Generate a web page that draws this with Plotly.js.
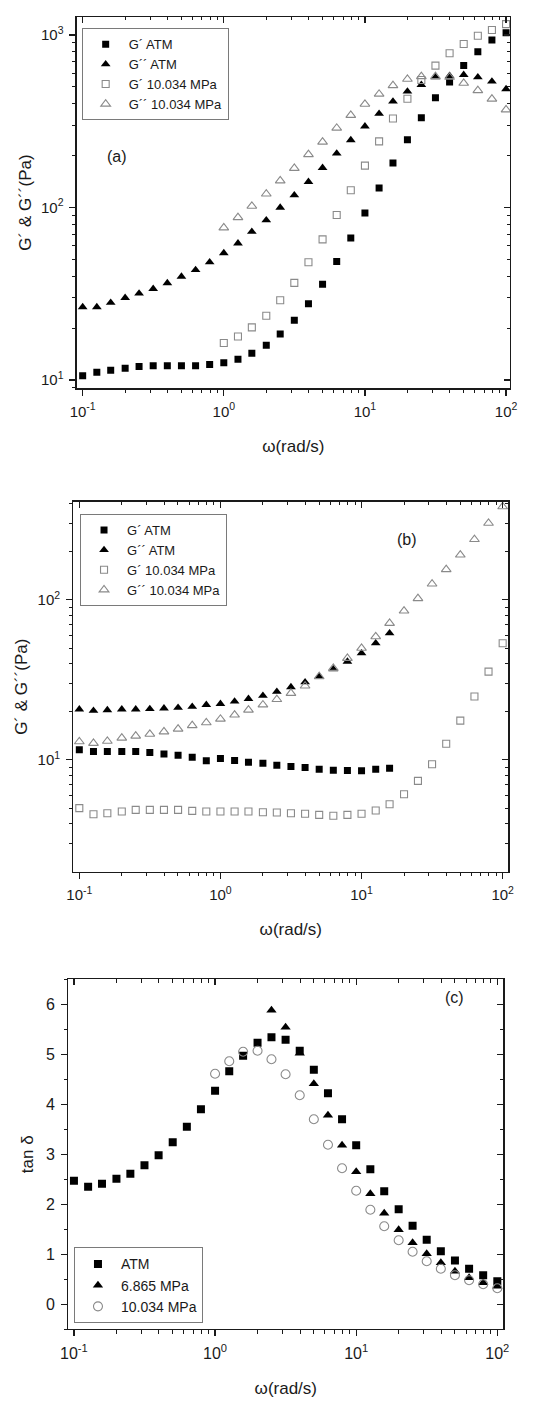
<!DOCTYPE html>
<html>
<head>
<meta charset="utf-8">
<script src="https://cdn.plot.ly/plotly-3.0.1.min.js"></script>
<style>
html,body{margin:0;padding:0;background:#fff;}
#chart{width:550px;height:1408px;}
</style>
</head>
<body>
<div id="chart"></div>
<script>
// ---------- data ----------
var omega = [0.1, 0.126, 0.158, 0.2, 0.251, 0.316, 0.398, 0.501, 0.631, 0.794,
             1, 1.26, 1.58, 2, 2.51, 3.16, 3.98, 5.01, 6.31, 7.94,
             10, 12.6, 15.8, 20, 25.1, 31.6, 39.8, 50.1, 63.1, 79.4, 100];

// panel (a)
var aGp_ATM  = [10.6, 11.1, 11.4, 11.7, 12.0, 12.1, 12.1, 12.1, 12.1, 12.3,
                12.6, 13.2, 14.3, 15.9, 18.5, 22.2, 27.7, 35.9, 48.6, 66.5,
                93, 130, 181, 247, 332, 433, 535, 665, 801, 935, 1030];
var aGpp_ATM = [26.5, 26.5, 28.1, 30.0, 31.8, 33.8, 36.5, 39.8, 43.5, 48.2,
                54.5, 62.0, 72.4, 84.5, 100, 118, 141, 170, 206, 246,
                296, 350, 412, 471, 515, 570, 580, 588, 570, 538, 486];
var aOmegaP10 = omega.slice(10);
var aGp_P10  = [16.4, 17.9, 20.2, 23.6, 29.0, 36.6, 48.2, 65.4, 90.6, 126,
                175, 242, 328, 427, 549, 665, 784, 887, 991, 1069, 1157];
var aGpp_P10 = [76.4, 87.6, 102, 120, 143, 169, 203, 240, 289, 343,
                398, 455, 510, 555, 575, 575, 570, 526, 477, 426, 369];

// panel (b)
var bOmegaATM = omega.slice(0, 23);
var bGp_ATM  = [11.55, 11.27, 11.27, 11.27, 11.27, 11.1, 10.9, 10.7, 10.4, 9.86,
                10.2, 9.9, 9.67, 9.53, 9.26, 9.09, 8.96, 8.74, 8.61, 8.58,
                8.54, 8.74, 8.87];
var bGpp_ATM = [20.7, 20.3, 20.5, 20.7, 20.7, 20.8, 21.0, 21.2, 21.5, 22.1,
                22.4, 23.2, 24.1, 25.2, 26.7, 28.5, 30.6, 33.2, 36.9, 41.2,
                46.4, 53.6, 61.9];
var bGp_P10  = [4.99, 4.57, 4.64, 4.76, 4.87, 4.87, 4.87, 4.87, 4.80, 4.76,
                4.76, 4.76, 4.76, 4.71, 4.69, 4.64, 4.60, 4.53, 4.47, 4.53,
                4.60, 4.82, 5.28, 6.10, 7.39, 9.39, 12.6, 17.6, 24.9, 35.6, 53.6];
var bGpp_P10 = [13.0, 12.7, 13.1, 13.7, 14.1, 14.5, 15.0, 15.6, 16.4, 17.1,
                18.0, 19.1, 20.5, 22.1, 23.9, 26.1, 29.0, 33.2, 37.4, 43.2,
                49.9, 59.0, 71.5, 85.3, 102, 126, 155, 191, 239, 302, 383];

// panel (c)
var cTan_ATM = [2.47, 2.35, 2.41, 2.51, 2.61, 2.78, 2.98, 3.24, 3.55, 3.90,
                4.27, 4.66, 4.97, 5.23, 5.34, 5.29, 5.07, 4.69, 4.22, 3.70,
                3.18, 2.70, 2.26, 1.90, 1.57, 1.29, 1.06, 0.875, 0.71, 0.58, 0.46];
var cOmegaP6 = omega.slice(14);
var cTan_P6  = [5.88, 5.54, 5.02, 4.41, 3.78, 3.18, 2.65, 2.21, 1.82, 1.49,
                1.23, 1.01, 0.83, 0.66, 0.53, 0.43, 0.36];
var cOmegaP10 = omega.slice(10);
var cTan_P10 = [4.61, 4.86, 5.05, 5.07, 4.90, 4.60, 4.18, 3.70, 3.19, 2.72,
                2.27, 1.89, 1.56, 1.28, 1.05, 0.86, 0.71, 0.58, 0.48, 0.40, 0.32];

// tick labels
var xTickVals = [0.1, 1, 10, 100];
var xTickText = ['10<sup>-1</sup>', '10<sup>0</sup>', '10<sup>1</sup>', '10<sup>2</sup>'];
var aYTickVals = [10, 100, 1000];
var aYTickText = ['10<sup>1</sup>', '10<sup>2</sup>', '10<sup>3</sup>'];
var bYTickVals = [10, 100];
var bYTickText = ['10<sup>1</sup>', '10<sup>2</sup>'];
var cYTickVals = [0, 1, 2, 3, 4, 5, 6];

// legend names
var namesAB = ['G´ ATM', 'G´´ ATM', 'G´ 10.034 MPa', 'G´´ 10.034 MPa'];
var namesC = ['ATM', '6.865 MPa', '10.034 MPa'];

// ---------- helpers ----------
function minorLog(decades, lo, hi) {
  var v = [];
  decades.forEach(function (d) {
    [2, 3, 4, 5, 6, 7, 8, 9].forEach(function (m) {
      var t = d * m;
      if (t > lo && t < hi) v.push(t);
    });
  });
  return v;
}
var FONT = '"Liberation Sans", Arial, Helvetica, sans-serif';
var INK = '#1a1a1a';
var GREY = '#8a8a8a';
var xMinor = minorLog([0.1, 1, 10], 0.09, 110);

function baseX(domain, range, anchor, tfs) {
  return {
    type: 'log', domain: domain, range: range, anchor: anchor,
    showline: true, linecolor: INK, linewidth: 1.2, mirror: false,
    showgrid: false, zeroline: false,
    ticks: 'outside', ticklen: 6, tickwidth: 1.2, tickcolor: INK,
    tickmode: 'array', tickvals: xTickVals, ticktext: xTickText,
    tickfont: {family: FONT, size: tfs, color: INK},
    ticklabelstandoff: 3,
    minor: {tickmode: 'array', tickvals: xMinor, ticks: 'outside', ticklen: 3.5, tickwidth: 1, tickcolor: INK, showgrid: false},
    title: {text: 'ω(rad/s)', font: {family: FONT, size: 17, color: INK}, standoff: 21}
  };
}
function topX(overl, range, anchor) {
  return {
    type: 'log', overlaying: overl, anchor: anchor, side: 'top', range: range,
    showline: true, linecolor: INK, linewidth: 1.2, showgrid: false, zeroline: false,
    ticks: 'inside', ticklen: 6, tickwidth: 1.2, tickcolor: INK,
    tickmode: 'array', tickvals: xTickVals, showticklabels: false,
    minor: {tickmode: 'array', tickvals: xMinor, ticks: 'inside', ticklen: 3.5, tickwidth: 1, tickcolor: INK, showgrid: false}
  };
}
function baseY(domain, range, anchor, type, tv, tt, minorVals, title, tfs, stand) {
  var ax = {
    type: type, domain: domain, range: range, anchor: anchor,
    showline: true, linecolor: INK, linewidth: 1.2, showgrid: false, zeroline: false,
    ticks: 'outside', ticklen: 6, tickwidth: 1.2, tickcolor: INK,
    tickmode: 'array', tickvals: tv,
    tickfont: {family: FONT, size: tfs, color: INK},
    ticklabelstandoff: 3,
    minor: {ticks: 'outside', ticklen: 3.5, tickwidth: 1, tickcolor: INK, showgrid: false},
    title: {text: title, font: {family: FONT, size: 17, color: INK}, standoff: stand}
  };
  if (tt) ax.ticktext = tt;
  if (minorVals) { ax.minor.tickmode = 'array'; ax.minor.tickvals = minorVals; }
  else { ax.minor.dtick = 0.5; }
  return ax;
}
function rightY(overl, range, anchor, type, tv, minorVals) {
  var ax = {
    type: type, overlaying: overl, anchor: anchor, side: 'right', range: range,
    showline: true, linecolor: INK, linewidth: 1.2, showgrid: false, zeroline: false,
    ticks: 'inside', ticklen: 6, tickwidth: 1.2, tickcolor: INK,
    tickmode: 'array', tickvals: tv, showticklabels: false,
    minor: {ticks: 'inside', ticklen: 3.5, tickwidth: 1, tickcolor: INK, showgrid: false}
  };
  if (minorVals) { ax.minor.tickmode = 'array'; ax.minor.tickvals = minorVals; }
  else { ax.minor.dtick = 0.5; }
  return ax;
}

// ranges
var aXR = [-1.0425, 2.028], aYR = [0.952, 3.106];
var bXR = [-1.0425, 2.04],  bYR = [0.301, 2.614];
var cXR = [-1.04, 2.0425],  cYR = [-0.5, 6.5];
var aYMinor = minorLog([1, 10, 100], 8.96, 1270);
var bYMinor = minorLog([1, 10, 100], 2.01, 410);

function mk(x, y, name, xa, ya, leg, sym, color, size) {
  var open = sym.indexOf('open') >= 0;
  return {
    type: 'scatter', mode: 'markers', x: x, y: y, name: name,
    xaxis: xa, yaxis: ya, legend: leg, hoverinfo: 'x+y+name',
    marker: {symbol: sym, size: size, color: color,
             line: {color: color, width: open ? 1.1 : 0}}
  };
}
// empty carriers so the mirrored frame axes (top / right) get drawn
function carrier(xa, ya) {
  return {type: 'scatter', mode: 'markers', x: [], y: [], xaxis: xa, yaxis: ya,
          showlegend: false, hoverinfo: 'skip'};
}

var traces = [
  mk(omega, aGp_ATM, namesAB[0], 'x', 'y', 'legend', 'square', '#000', 7),
  mk(omega, aGpp_ATM, namesAB[1], 'x', 'y', 'legend', 'triangle-up', '#000', 8.5),
  mk(aOmegaP10, aGp_P10, namesAB[2], 'x', 'y', 'legend', 'square-open', GREY, 7),
  mk(aOmegaP10, aGpp_P10, namesAB[3], 'x', 'y', 'legend', 'triangle-up-open', GREY, 8.5),

  mk(bOmegaATM, bGp_ATM, namesAB[0], 'x2', 'y2', 'legend2', 'square', '#000', 7),
  mk(bOmegaATM, bGpp_ATM, namesAB[1], 'x2', 'y2', 'legend2', 'triangle-up', '#000', 8.5),
  mk(omega, bGp_P10, namesAB[2], 'x2', 'y2', 'legend2', 'square-open', GREY, 7),
  mk(omega, bGpp_P10, namesAB[3], 'x2', 'y2', 'legend2', 'triangle-up-open', GREY, 8.5),

  mk(omega, cTan_ATM, namesC[0], 'x3', 'y3', 'legend3', 'square', '#000', 8),
  mk(cOmegaP6, cTan_P6, namesC[1], 'x3', 'y3', 'legend3', 'triangle-up', '#000', 9),
  mk(cOmegaP10, cTan_P10, namesC[2], 'x3', 'y3', 'legend3', 'circle-open', GREY, 9),

  carrier('x4', 'y'), carrier('x', 'y4'),
  carrier('x5', 'y2'), carrier('x2', 'y5'),
  carrier('x6', 'y3'), carrier('x3', 'y6')
];

function legendBox(x, y, fs) {
  return {x: x, y: y, xref: 'paper', yref: 'paper', xanchor: 'left', yanchor: 'top',
          bgcolor: 'rgba(255,255,255,0)', bordercolor: '#7a7a7a', borderwidth: 1,
          font: {family: FONT, size: fs, color: INK}, tracegroupgap: 0, itemwidth: 36};
}

var layout = {
  width: 550, height: 1408,
  margin: {l: 0, r: 0, t: 0, b: 0},
  paper_bgcolor: '#fff', plot_bgcolor: 'rgba(0,0,0,0)',
  font: {family: FONT, color: INK},
  showlegend: true,
  xaxis:  baseX([0.1394, 0.9273], aXR, 'y', 15),
  yaxis:  baseY([0.7242, 0.9881], aYR, 'x', 'log', aYTickVals, aYTickText, aYMinor, 'G´ &amp; G´´(Pa)', 15, 5),
  xaxis4: topX('x', aXR, 'y'),
  yaxis4: rightY('y', aYR, 'x', 'log', aYTickVals, aYMinor),

  xaxis2: baseX([0.1333, 0.9242], bXR, 'y2', 15),
  yaxis2: baseY([0.3809, 0.6437], bYR, 'x2', 'log', bYTickVals, bYTickText, bYMinor, 'G´ &amp; G´´(Pa)', 15, 5),
  xaxis5: topX('x2', bXR, 'y2'),
  yaxis5: rightY('y2', bYR, 'x2', 'log', bYTickVals, bYMinor),

  xaxis3: baseX([0.1242, 0.9151], cXR, 'y3', 16),
  yaxis3: baseY([0.0559, 0.3045], cYR, 'x3', 'linear', cYTickVals, null, null, 'tan δ', 16, 8),
  xaxis6: topX('x3', cXR, 'y3'),
  yaxis6: rightY('y3', cYR, 'x3', 'linear', cYTickVals, null),

  legend:  legendBox(0.1485, 0.9799, 13),
  legend2: legendBox(0.1455, 0.6349, 13),
  legend3: legendBox(0.1345, 0.1141, 14),

  annotations: [
    {text: '(a)', x: 0.1909, y: 0.8963, xref: 'paper', yref: 'paper', showarrow: false,
     font: {family: FONT, size: 16, color: INK}},
    {text: '(b)', x: 0.7624, y: 0.6170, xref: 'paper', yref: 'paper', showarrow: false,
     font: {family: FONT, size: 16, color: INK}},
    {text: '(c)', x: 0.8473, y: 0.2839, xref: 'paper', yref: 'paper', showarrow: false,
     font: {family: FONT, size: 16, color: INK}}
  ]
};

Plotly.newPlot('chart', traces, layout, {staticPlot: true, displayModeBar: false});
</script>
</body>
</html>
